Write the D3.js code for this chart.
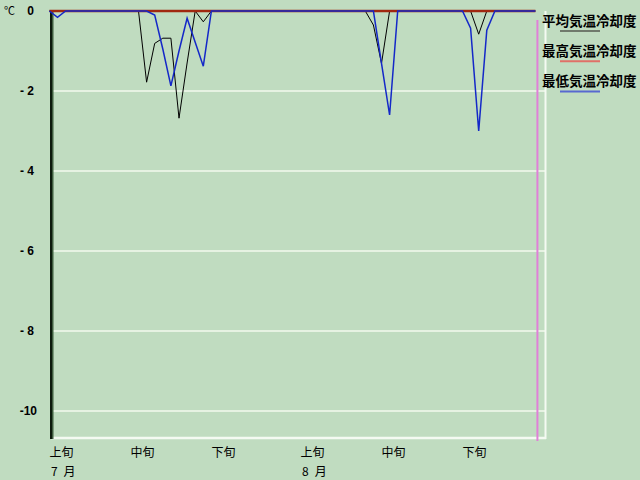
<!DOCTYPE html>
<html><head><meta charset="utf-8">
<script src="https://cdn.jsdelivr.net/npm/d3@7"></script>
<style>body{margin:0;background:#c0dcc0;}svg{display:block;}</style>
</head><body>
<svg id="c" width="640" height="480"></svg>
<script>
// day index 0 = 7/1 ... 60 = 8/30
const meanVals = [0,0,0,0,0,0,0,0,0,0,0, 0,-1.78,-0.81,-0.68,-0.68,-2.68,-1.3,0,-0.27,0,
  0,0,0,0,0,0,0,0,0,0,0,0,0,0,0,0,0,0,0, -0.35,-1.31,0,
  0,0,0,0,0,0,0,0,0,0, -0.58,0, 0,0,0,0,0,0];
const maxVals = [0,0,0,0,0,0,0,0,0,0,0,0,0,0,0,0,0,0,0,0,0,
  0,0,0,0,0,0,0,0,0,0,0,0,0,0,0,0,0,0,0,0,0,0,
  0,0,0,0,0,0,0,0,0,0,0,0,0,0,0,0,0,0];
const minVals = [0,-0.16,0,0,0,0,0,0,0,0,0,0,0,-0.1,-0.95,-1.87,-1.0,-0.18,-0.78,-1.38,0,
  0,0,0,0,0,0,0,0,0,0,0,0,0,0,0,0,0,0,0,0,-1.31,-2.6,
  0,0,0,0,0,0,0,0,0,-0.43,-3.0,-0.48,0,0,0,0,0,0];
const seriesNames = ["平均気温冷却度","最高気温冷却度","最低気温冷却度"];
const yTicks = [0,-2,-4,-6,-8,-10];
const yTickLabels = ["0","- 2","- 4","- 6","- 8","-10"];
const xTickDays = [0,10,20,31,41,51];
const xTickLabels = ["上旬","中旬","下旬","上旬","中旬","下旬"];
const monthDays = [0,31];
const monthLabels = ["7 月","8 月"];
const todayIndex = 60.25;

const svg = d3.select("#c");
const L = 51, R = 546, T = 11, B = 438;
const x = d3.scaleLinear().domain([0,61]).range([49.4, 49.4+61*8.1]);
const y = d3.scaleLinear().domain([0,-10]).range([T, T+400]);

// gridlines
svg.append("g").selectAll("line").data(yTicks.filter(v=>v!==0)).join("line")
  .attr("x1",L).attr("x2",R).attr("y1",d=>y(d)).attr("y2",d=>y(d))
  .attr("stroke","#e6f2e2").attr("stroke-width",2);

// frame: bottom & right white
svg.append("line").attr("x1",L).attr("x2",R).attr("y1",B).attr("y2",B).attr("stroke","#f4faf2").attr("stroke-width",2.5);
svg.append("line").attr("x1",R-0.5).attr("x2",R-0.5).attr("y1",T).attr("y2",B+1).attr("stroke","#f4faf2").attr("stroke-width",2);

// left axis dark
svg.append("rect").attr("x",50).attr("y",T).attr("width",2).attr("height",B-T+1).attr("fill","#0c1a0c");
svg.append("rect").attr("x",52).attr("y",T).attr("width",1.5).attr("height",B-T+1).attr("fill","#3c5a3c");

// today marker
svg.append("line").attr("x1",x(todayIndex)).attr("x2",x(todayIndex)).attr("y1",20).attr("y2",441)
  .attr("stroke","#e080d8").attr("stroke-width",2);

const line = d3.line().x((d,i)=>x(i)).y(d=>y(d));
svg.append("path").datum(meanVals).attr("d",line).attr("fill","none").attr("stroke","#000").attr("stroke-width",1);
svg.append("path").datum(maxVals).attr("d",line).attr("fill","none").attr("stroke","#a02810").attr("stroke-width",2.4);
svg.append("path").datum(minVals).attr("d",line).attr("fill","none").attr("stroke","#1428c8").attr("stroke-width",1.5);
// heavier navy baseline where all series rest at zero
svg.append("line").attr("x1",x(0)).attr("x2",x(0)).attr("y1",y(0)).attr("y2",y(0));

// y axis labels
const yAxis = d3.axisLeft(y).tickValues(yTicks).tickSize(0).tickPadding(0)
  .tickFormat((d,i)=>yTickLabels[i]);
const ga = svg.append("g").attr("transform","translate(34,0)").call(yAxis);
ga.select(".domain").remove();
ga.selectAll("text").attr("font-family","Liberation Sans, Arial, sans-serif").attr("font-size",12)
  .attr("font-weight","bold").attr("fill","#000").attr("dx",(d,i)=>yTickLabels[i].length>2&&yTickLabels[i][1]!==" "?3:0);

svg.append("text").attr("x",4).attr("y",15).text("℃")
  .attr("font-family","Noto Sans CJK JP").attr("font-size",11).attr("fill","#000");

// x labels
svg.append("g").selectAll("text").data(xTickDays).join("text")
  .attr("x",d=>x(d)).attr("y",457).text((d,i)=>xTickLabels[i])
  .attr("font-family","Noto Sans CJK JP").attr("font-size",12).attr("fill","#000");
svg.append("g").selectAll("text").data(monthDays).join("text")
  .attr("x",d=>x(d)+1.5).attr("y",476).text((d,i)=>monthLabels[i].replace(" ","\u2002"))
  .attr("font-family","Noto Sans CJK JP").attr("font-size",12).attr("fill","#000");

// legend
const legColors = ["#707a6c","#e07068","#5868d0"];
const lg = svg.append("g").selectAll("g").data(seriesNames).join("g")
  .attr("transform",(d,i)=>`translate(542,${26+i*30.2})`);
lg.append("text").text(d=>d).attr("x",0).attr("y",0)
  .attr("font-family","Noto Sans CJK JP").attr("font-weight","bold").attr("font-size",13.5).attr("fill","#000");
lg.append("line").attr("x1",18).attr("x2",58).attr("y1",5).attr("y2",5)
  .attr("stroke",(d,i)=>legColors[i]).attr("stroke-width",2);
</script>
</body></html>
